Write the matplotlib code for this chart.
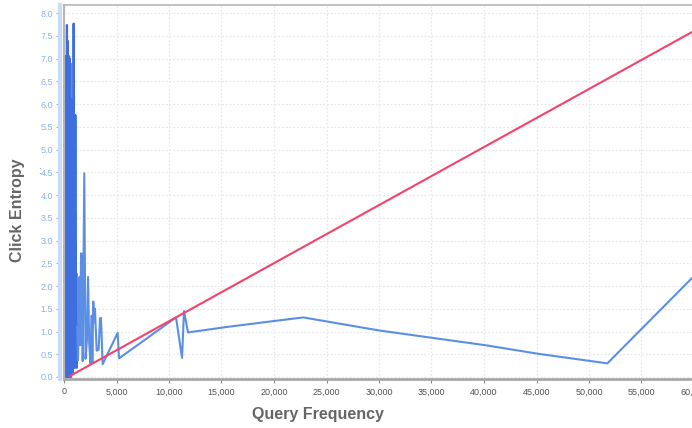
import matplotlib
matplotlib.use("Agg")
import matplotlib.pyplot as plt
from matplotlib.ticker import FuncFormatter, MultipleLocator

plt.rcParams['font.family'] = ['Liberation Sans', 'DejaVu Sans']

# dense low-frequency part of the blue series (drawn darker, heavy overlap)
dense_freq = [100, 120, 140, 160, 180, 200, 220, 240, 260, 280, 300, 320, 340,
              360, 380, 400, 420, 440, 460, 480, 500, 520, 540, 560, 580, 600,
              620, 640, 660, 680, 700, 720, 740, 760, 780, 800, 820, 840, 860,
              880, 900, 920, 940, 960, 980, 1000, 1020, 1040, 1060, 1080, 1100,
              1120, 1140, 1170, 1210, 1260]
dense_entropy = [0.05, 7.05, 0.10, 6.95, 0.00, 7.05, 0.20, 7.00, 0.05, 7.74,
                 0.10, 7.40, 0.00, 7.05, 0.15, 7.05, 0.05, 6.90, 0.20, 7.05,
                 0.00, 7.00, 0.30, 6.60, 0.10, 6.90, 0.20, 6.10, 0.00, 6.10,
                 0.40, 5.90, 0.10, 6.10, 0.20, 4.80, 0.10, 4.30, 0.50, 3.20,
                 0.60, 7.77, 0.30, 5.20, 0.40, 4.30, 0.20, 3.60, 0.30, 5.76,
                 0.50, 2.90, 0.40, 2.28, 0.20, 1.10]

# rest of the blue series: query frequency vs click entropy
freq = [1260, 1330, 1400, 1480, 1550, 1620, 1700, 1780, 1930, 2050, 2180, 2290,
        2400, 2520, 2640, 2700, 2790, 2870, 2950, 3110, 3300, 3430, 3520, 3680,
        5110, 5240, 10670, 11240, 11430, 11810, 15500, 19620, 22790, 30100,
        40100, 45170, 51750, 60000]
entropy = [1.10, 0.37, 1.10, 2.20, 0.70, 2.72, 2.70, 0.35, 4.48, 0.40, 0.80,
           2.20, 0.75, 0.30, 1.35, 0.30, 1.66, 1.20, 1.50, 0.58, 0.60, 1.29,
           1.30, 0.28, 0.97, 0.41, 1.31, 0.42, 1.45, 0.98, 1.10, 1.22, 1.31,
           1.02, 0.70, 0.51, 0.30, 2.22]

# red trend line endpoints
trend_x = [550, 60000]
trend_y = [0.02, 7.61]

fig = plt.figure(figsize=(6.92, 4.28), dpi=100)
ax = fig.add_axes([64 / 692, 49 / 428, 630 / 692, 374 / 428])

ax.plot(dense_freq, dense_entropy, color='#3f6fdf', lw=1.6, zorder=3)
ax.plot(freq, entropy, color='#5b8fe6', lw=1.5, zorder=3)
ax.plot(trend_x, trend_y, color='#f5426c', lw=1.5, zorder=4)

ax.set_xlim(0, 60000)
ax.set_ylim(-0.044, 8.18)
ax.xaxis.set_major_locator(MultipleLocator(5000))
ax.yaxis.set_major_locator(MultipleLocator(0.5))
ax.xaxis.set_major_formatter(FuncFormatter(lambda v, p: "{:,.0f}".format(v)))
ax.yaxis.set_major_formatter(FuncFormatter(lambda v, p: "{:.1f}".format(v)))

ax.grid(True, color='#e8e8e8', ls=(0, (1.5, 1.5)), lw=0.9)
ax.set_axisbelow(True)

ax.tick_params(axis='y', colors='#8ab2f2', labelsize=6.5, length=3, width=0.8, pad=2)
ax.tick_params(axis='x', colors='#888888', labelcolor='#555555', labelsize=6.5,
               length=3, width=0.8, pad=3)

for s in ['top', 'right']:
    ax.spines[s].set_visible(False)
ax.spines['left'].set_position(('outward', 3))
ax.spines['left'].set_color('#c9dbf7')
ax.spines['left'].set_linewidth(3)
ax.spines['bottom'].set_color('#a8a8a8')
ax.spines['bottom'].set_linewidth(2)
ax.plot([0, 0], [0, 1], transform=ax.transAxes, color='#b5b5b5', lw=1.5,
        clip_on=False, zorder=5)
ax.plot([0, 1], [1, 1], transform=ax.transAxes, color='#b5b5b5', lw=1.2,
        clip_on=False, zorder=5)

fig.text(18 / 692, 1 - 210 / 428, "Click Entropy", rotation=90, ha='center',
         va='center', fontsize=11.5, fontweight='bold', color='#666666')
fig.text(318 / 692, 1 - 415 / 428, "Query Frequency", ha='center', va='center',
         fontsize=11.5, fontweight='bold', color='#666666')
fig.text(40 / 692, 1 - 171 / 428, ":", ha='center', va='center', fontsize=7,
         fontweight='bold', color='#8ab2f2')

fig.savefig("out.png", dpi=100)
